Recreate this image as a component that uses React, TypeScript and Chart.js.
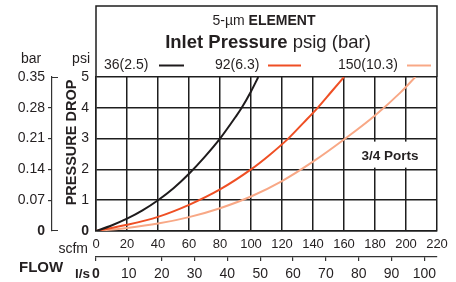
import React, { useEffect, useRef } from 'react';
import { Chart, registerables } from 'chart.js';

Chart.register(...registerables);

const FONT = '"Liberation Sans", Arial, Helvetica, sans-serif';
const INK = '#231f20';
const GRID = '#1e1e1e';

// Flow axis (scfm) and its companion axis (l/s)
const scfmTicks = [0, 20, 40, 60, 80, 100, 120, 140, 160, 180, 200, 220];
const lsTicks = [0, 10, 20, 30, 40, 50, 60, 70, 80, 90, 100];
const SCFM_PER_LS = 2.1189;

// Pressure drop axis (psi) and its companion axis (bar)
const psiTicks = [0, 1, 2, 3, 4, 5];
const barTicks = [0, 0.07, 0.14, 0.21, 0.28, 0.35];
const barTickLabels = ['0', '0.07', '0.14', '0.21', '0.28', '0.35'];

// Series: inlet pressure psig (bar)
const seriesLabels = ['36(2.5)', '92(6.3)', '150(10.3)'];
const seriesColors = ['#1e1b1c', '#ef4f24', '#f8a886'];

const flow36 = [0, 10, 20, 30, 40, 50, 60, 70, 80, 90, 94, 100, 104.7];
const drop36 = [0, 0.18, 0.4, 0.67, 1.0, 1.39, 1.86, 2.4, 3.0, 3.7, 4.0, 4.53, 5.0];

const flow92 = [0, 20, 40, 60, 80, 100, 112, 124, 134, 143, 152, 160];
const drop92 = [0, 0.2, 0.46, 0.85, 1.35, 2.0, 2.47, 3.0, 3.52, 4.0, 4.53, 5.0];

const flow150 = [0, 20, 40, 60, 80, 100, 120, 140, 160, 180, 196.5, 206];
const drop150 = [0, 0.1, 0.24, 0.45, 0.74, 1.12, 1.62, 2.25, 2.97, 3.75, 4.5, 5.0];

const seriesFlows = [flow36, flow92, flow150];
const seriesDrops = [drop36, drop92, drop150];

const portsLabel = '3/4 Ports';
const portsAt = { x: 189.7, y: 2.48 };

function font(size: number, bold = false) {
  return `${bold ? 'bold ' : ''}${size}px ${FONT}`;
}

function drawMixed(ctx: CanvasRenderingContext2D, parts: { t: string; b: boolean }[], size: number, cx: number, baseline: number) {
  let total = 0;
  const widths = parts.map((p) => {
    ctx.font = font(size, p.b);
    const w = ctx.measureText(p.t).width;
    total += w;
    return w;
  });
  let x = cx - total / 2;
  parts.forEach((p, i) => {
    ctx.font = font(size, p.b);
    ctx.fillText(p.t, x, baseline);
    x += widths[i];
  });
}

const decorPlugin = {
  id: 'decor',
  beforeDatasetsDraw(chart: any) {
    const { ctx, scales } = chart;
    const x = scales.x;
    const y = scales.y;
    const px = x.getPixelForValue(portsAt.x);
    const py = y.getPixelForValue(portsAt.y);
    ctx.save();
    ctx.font = font(13.5, true);
    const w = ctx.measureText(portsLabel).width;
    ctx.fillStyle = '#ffffff';
    ctx.fillRect(px - w / 2 - 3, py - 13, w + 6, 26);
    ctx.fillStyle = INK;
    ctx.textAlign = 'center';
    ctx.textBaseline = 'alphabetic';
    ctx.fillText(portsLabel, px, py + 5);
    ctx.restore();
  },
  afterDraw(chart: any) {
    const { ctx, chartArea, scales } = chart;
    ctx.save();
    // frame around title area
    ctx.strokeStyle = GRID;
    ctx.lineWidth = 1.5;
    ctx.beginPath();
    ctx.moveTo(chartArea.left, chartArea.top);
    ctx.lineTo(chartArea.left, 6);
    ctx.lineTo(chartArea.right, 6);
    ctx.lineTo(chartArea.right, chartArea.top);
    ctx.stroke();

    ctx.fillStyle = INK;
    ctx.textBaseline = 'alphabetic';
    ctx.textAlign = 'left';
    drawMixed(ctx, [{ t: '5-µm ', b: false }, { t: 'ELEMENT', b: true }], 14, 264, 25);
    drawMixed(ctx, [{ t: 'Inlet Pressure', b: true }, { t: ' psig (bar)', b: false }], 18.5, 268, 47.5);

    // legend
    const textX = [104, 215, 338];
    const lineX = [[159, 184], [268, 301], [407, 431]];
    ctx.font = font(14);
    seriesLabels.forEach((lab, i) => {
      ctx.fillStyle = INK;
      ctx.textAlign = 'left';
      ctx.fillText(lab, textX[i], 69);
      ctx.strokeStyle = seriesColors[i];
      ctx.lineWidth = 2;
      ctx.beginPath();
      ctx.moveTo(lineX[i][0], 65.5);
      ctx.lineTo(lineX[i][1], 65.5);
      ctx.stroke();
    });

    // axis unit labels
    ctx.fillStyle = INK;
    ctx.font = font(14);
    ctx.textAlign = 'left';
    ctx.fillText('bar', 21, 63);
    ctx.textAlign = 'right';
    ctx.fillText('psi', 90, 63);
    ctx.fillText('scfm', 88, 253);
    ctx.font = font(13.5, true);
    ctx.fillText('l/s', 90, 278);
    ctx.font = font(15, true);
    ctx.textAlign = 'left';
    ctx.fillText('FLOW', 19, 271.5);

    // vertical axis title
    ctx.save();
    ctx.translate(76, 142.5);
    ctx.rotate(-Math.PI / 2);
    ctx.font = font(14.5, true);
    ctx.textAlign = 'center';
    ctx.fillText('PRESSURE DROP', 0, 0);
    ctx.restore();

    // bracket caps on bar axis
    const y2 = scales.y2;
    const bx = y2.right;
    ctx.strokeStyle = '#333';
    ctx.lineWidth = 1.2;
    ctx.beginPath();
    const top = Math.round(y2.getPixelForValue(barTicks[barTicks.length - 1])) + 0.5;
    const bot = Math.round(y2.getPixelForValue(barTicks[0])) - 0.5;
    ctx.moveTo(bx, top);
    ctx.lineTo(bx + 6, top);
    ctx.moveTo(bx, bot);
    ctx.lineTo(bx + 6, bot);
    ctx.stroke();
    ctx.restore();
  },
};

export default function App() {
  const ref = useRef<HTMLCanvasElement | null>(null);

  useEffect(() => {
    if (!ref.current) return;
    const datasets = seriesLabels.map((lab, i) => ({
      label: lab,
      data: seriesFlows[i].map((f, j) => ({ x: f, y: seriesDrops[i][j] })),
      borderColor: seriesColors[i],
      backgroundColor: seriesColors[i],
      borderWidth: 2,
      pointRadius: 0,
      cubicInterpolationMode: 'monotone' as const,
      fill: false,
      xAxisID: 'x',
      yAxisID: 'y',
      order: i,
    }));

    const chart = new Chart(ref.current, {
      type: 'line',
      data: { datasets },
      plugins: [decorPlugin],
      options: {
        responsive: false,
        animation: false,
        devicePixelRatio: 1,
        layout: { padding: { left: 0, top: 77, right: 19, bottom: 0 } },
        plugins: {
          legend: { display: false },
          tooltip: { enabled: false },
          title: { display: false },
        },
        scales: {
          x: {
            type: 'linear',
            position: 'bottom',
            weight: 0,
            min: 0,
            max: 220,
            afterBuildTicks: (s: any) => {
              s.ticks = scfmTicks.map((v) => ({ value: v }));
            },
            afterFit: (s: any) => {
              s.height = 26;
            },
            grid: { color: GRID, lineWidth: 1.5, drawTicks: false },
            border: { display: true, color: GRID, width: 1.5 },
            ticks: {
              font: { family: FONT, size: 13 },
              color: INK,
              padding: 6,
              maxRotation: 0,
              autoSkip: false,
            },
          },
          x2: {
            type: 'linear',
            position: 'bottom',
            weight: 1,
            min: 0,
            max: 220 / SCFM_PER_LS,
            afterBuildTicks: (s: any) => {
              s.ticks = lsTicks.map((v) => ({ value: v }));
            },
            afterFit: (s: any) => {
              s.height = 25;
            },
            grid: { drawOnChartArea: false, color: '#333', lineWidth: 1.2, tickLength: 4 },
            border: { display: true, color: '#333', width: 1.2 },
            ticks: {
              font: (c: any) => ({ family: FONT, size: 14, weight: c.tick && c.tick.value === 0 ? 'bold' : 'normal' }),
              color: INK,
              padding: 5,
              maxRotation: 0,
              autoSkip: false,
            },
          },
          y: {
            type: 'linear',
            position: 'left',
            weight: 0,
            min: 0,
            max: 5,
            afterBuildTicks: (s: any) => {
              s.ticks = psiTicks.map((v) => ({ value: v }));
            },
            afterFit: (s: any) => {
              s.width = 44;
            },
            grid: { color: GRID, lineWidth: 1.5, drawTicks: false },
            border: { display: true, color: GRID, width: 1.5 },
            ticks: {
              font: (c: any) => ({ family: FONT, size: 14, weight: c.tick && c.tick.value === 0 ? 'bold' : 'normal' }),
              color: INK,
              padding: 7,
              autoSkip: false,
            },
          },
          y2: {
            type: 'linear',
            position: 'left',
            weight: 1,
            min: 0,
            max: 0.35,
            afterBuildTicks: (s: any) => {
              s.ticks = barTicks.map((v) => ({ value: v }));
            },
            afterFit: (s: any) => {
              s.width = 52;
            },
            grid: {
              drawOnChartArea: false,
              lineWidth: 1.2,
              tickLength: 4,
              color: '#333',
              tickColor: (c: any) =>
                c.index === 0 || c.index === barTicks.length - 1 ? 'rgba(0,0,0,0)' : '#333',
            },
            border: { display: true, color: '#333', width: 1.2 },
            ticks: {
              font: (c: any) => ({ family: FONT, size: 14, weight: c.index === 0 ? 'bold' : 'normal' }),
              color: INK,
              padding: 3,
              autoSkip: false,
              callback: (_v: any, i: number) => barTickLabels[i],
            },
          },
        },
      } as any,
    });
    return () => chart.destroy();
  }, []);

  return (
    <div style={{ position: 'absolute', left: 0, top: 0, width: 456, height: 282, background: '#fff' }}>
      <canvas ref={ref} width={456} height={282} style={{ display: 'block', width: 456, height: 282 }} />
    </div>
  );
}
